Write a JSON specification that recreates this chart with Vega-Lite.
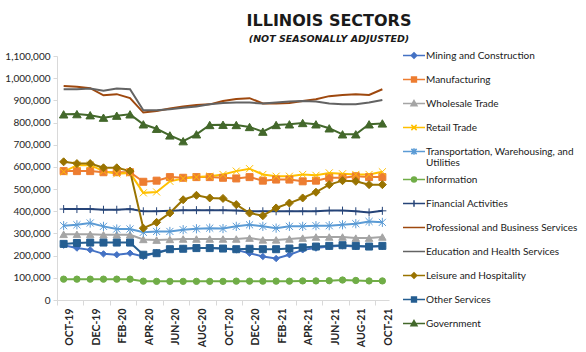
{
  "$schema": "https://vega.github.io/schema/vega-lite/v6.json",
  "width": 332,
  "height": 244,
  "autosize": {"type": "none"},
  "padding": {"left": 57, "top": 56, "right": 197, "bottom": 52},
  "background": "white",
  "config": {"view": {"stroke": null}, "font": "Lato"},
  "title": {
    "text": "ILLINOIS SECTORS",
    "subtitle": "(NOT SEASONALLY ADJUSTED)",
    "font": "DejaVu Sans",
    "fontSize": 16,
    "fontWeight": "bold",
    "color": "#1a1a1a",
    "subtitleFont": "DejaVu Sans",
    "subtitleFontSize": 9.5,
    "subtitleFontStyle": "italic",
    "subtitleFontWeight": "bold",
    "subtitleColor": "#1a1a1a",
    "subtitlePadding": 5,
    "anchor": "middle",
    "dx": 106,
    "offset": 0.5
  },
  "data": {"values": [
    {"m":"OCT-19","s":"Mining and Construction","v":247000},{"m":"NOV-19","s":"Mining and Construction","v":234000},{"m":"DEC-19","s":"Mining and Construction","v":226000},{"m":"JAN-20","s":"Mining and Construction","v":208000},{"m":"FEB-20","s":"Mining and Construction","v":204000},{"m":"MAR-20","s":"Mining and Construction","v":211000},{"m":"APR-20","s":"Mining and Construction","v":196000},{"m":"MAY-20","s":"Mining and Construction","v":214000},{"m":"JUN-20","s":"Mining and Construction","v":229000},{"m":"JUL-20","s":"Mining and Construction","v":231000},{"m":"AUG-20","s":"Mining and Construction","v":234000},{"m":"SEP-20","s":"Mining and Construction","v":234000},{"m":"OCT-20","s":"Mining and Construction","v":232000},{"m":"NOV-20","s":"Mining and Construction","v":226000},{"m":"DEC-20","s":"Mining and Construction","v":211000},{"m":"JAN-21","s":"Mining and Construction","v":196000},{"m":"FEB-21","s":"Mining and Construction","v":187000},{"m":"MAR-21","s":"Mining and Construction","v":204000},{"m":"APR-21","s":"Mining and Construction","v":226000},{"m":"MAY-21","s":"Mining and Construction","v":234000},{"m":"JUN-21","s":"Mining and Construction","v":241000},{"m":"JUL-21","s":"Mining and Construction","v":244000},{"m":"AUG-21","s":"Mining and Construction","v":241000},{"m":"SEP-21","s":"Mining and Construction","v":241000},{"m":"OCT-21","s":"Mining and Construction","v":241000},
    {"m":"OCT-19","s":"Manufacturing","v":581000},{"m":"NOV-19","s":"Manufacturing","v":581000},{"m":"DEC-19","s":"Manufacturing","v":581000},{"m":"JAN-20","s":"Manufacturing","v":576000},{"m":"FEB-20","s":"Manufacturing","v":576000},{"m":"MAR-20","s":"Manufacturing","v":576000},{"m":"APR-20","s":"Manufacturing","v":533000},{"m":"MAY-20","s":"Manufacturing","v":538000},{"m":"JUN-20","s":"Manufacturing","v":554000},{"m":"JUL-20","s":"Manufacturing","v":551000},{"m":"AUG-20","s":"Manufacturing","v":554000},{"m":"SEP-20","s":"Manufacturing","v":554000},{"m":"OCT-20","s":"Manufacturing","v":551000},{"m":"NOV-20","s":"Manufacturing","v":548000},{"m":"DEC-20","s":"Manufacturing","v":554000},{"m":"JAN-21","s":"Manufacturing","v":538000},{"m":"FEB-21","s":"Manufacturing","v":543000},{"m":"MAR-21","s":"Manufacturing","v":543000},{"m":"APR-21","s":"Manufacturing","v":535000},{"m":"MAY-21","s":"Manufacturing","v":538000},{"m":"JUN-21","s":"Manufacturing","v":551000},{"m":"JUL-21","s":"Manufacturing","v":551000},{"m":"AUG-21","s":"Manufacturing","v":558000},{"m":"SEP-21","s":"Manufacturing","v":554000},{"m":"OCT-21","s":"Manufacturing","v":554000},
    {"m":"OCT-19","s":"Wholesale Trade","v":296000},{"m":"NOV-19","s":"Wholesale Trade","v":296000},{"m":"DEC-19","s":"Wholesale Trade","v":296000},{"m":"JAN-20","s":"Wholesale Trade","v":294000},{"m":"FEB-20","s":"Wholesale Trade","v":294000},{"m":"MAR-20","s":"Wholesale Trade","v":294000},{"m":"APR-20","s":"Wholesale Trade","v":273000},{"m":"MAY-20","s":"Wholesale Trade","v":270000},{"m":"JUN-20","s":"Wholesale Trade","v":273000},{"m":"JUL-20","s":"Wholesale Trade","v":275000},{"m":"AUG-20","s":"Wholesale Trade","v":275000},{"m":"SEP-20","s":"Wholesale Trade","v":275000},{"m":"OCT-20","s":"Wholesale Trade","v":275000},{"m":"NOV-20","s":"Wholesale Trade","v":275000},{"m":"DEC-20","s":"Wholesale Trade","v":279000},{"m":"JAN-21","s":"Wholesale Trade","v":271000},{"m":"FEB-21","s":"Wholesale Trade","v":271000},{"m":"MAR-21","s":"Wholesale Trade","v":275000},{"m":"APR-21","s":"Wholesale Trade","v":279000},{"m":"MAY-21","s":"Wholesale Trade","v":284000},{"m":"JUN-21","s":"Wholesale Trade","v":284000},{"m":"JUL-21","s":"Wholesale Trade","v":284000},{"m":"AUG-21","s":"Wholesale Trade","v":279000},{"m":"SEP-21","s":"Wholesale Trade","v":279000},{"m":"OCT-21","s":"Wholesale Trade","v":284000},
    {"m":"OCT-19","s":"Retail Trade","v":578000},{"m":"NOV-19","s":"Retail Trade","v":608000},{"m":"DEC-19","s":"Retail Trade","v":608000},{"m":"JAN-20","s":"Retail Trade","v":581000},{"m":"FEB-20","s":"Retail Trade","v":569000},{"m":"MAR-20","s":"Retail Trade","v":573000},{"m":"APR-20","s":"Retail Trade","v":483000},{"m":"MAY-20","s":"Retail Trade","v":487000},{"m":"JUN-20","s":"Retail Trade","v":535000},{"m":"JUL-20","s":"Retail Trade","v":548000},{"m":"AUG-20","s":"Retail Trade","v":554000},{"m":"SEP-20","s":"Retail Trade","v":558000},{"m":"OCT-20","s":"Retail Trade","v":566000},{"m":"NOV-20","s":"Retail Trade","v":581000},{"m":"DEC-20","s":"Retail Trade","v":592000},{"m":"JAN-21","s":"Retail Trade","v":566000},{"m":"FEB-21","s":"Retail Trade","v":558000},{"m":"MAR-21","s":"Retail Trade","v":558000},{"m":"APR-21","s":"Retail Trade","v":566000},{"m":"MAY-21","s":"Retail Trade","v":562000},{"m":"JUN-21","s":"Retail Trade","v":573000},{"m":"JUL-21","s":"Retail Trade","v":569000},{"m":"AUG-21","s":"Retail Trade","v":566000},{"m":"SEP-21","s":"Retail Trade","v":566000},{"m":"OCT-21","s":"Retail Trade","v":578000},
    {"m":"OCT-19","s":"Transportation, Warehousing, and Utilities","v":335000},{"m":"NOV-19","s":"Transportation, Warehousing, and Utilities","v":339000},{"m":"DEC-19","s":"Transportation, Warehousing, and Utilities","v":347000},{"m":"JAN-20","s":"Transportation, Warehousing, and Utilities","v":332000},{"m":"FEB-20","s":"Transportation, Warehousing, and Utilities","v":320000},{"m":"MAR-20","s":"Transportation, Warehousing, and Utilities","v":320000},{"m":"APR-20","s":"Transportation, Warehousing, and Utilities","v":305000},{"m":"MAY-20","s":"Transportation, Warehousing, and Utilities","v":309000},{"m":"JUN-20","s":"Transportation, Warehousing, and Utilities","v":309000},{"m":"JUL-20","s":"Transportation, Warehousing, and Utilities","v":317000},{"m":"AUG-20","s":"Transportation, Warehousing, and Utilities","v":321000},{"m":"SEP-20","s":"Transportation, Warehousing, and Utilities","v":324000},{"m":"OCT-20","s":"Transportation, Warehousing, and Utilities","v":322000},{"m":"NOV-20","s":"Transportation, Warehousing, and Utilities","v":332000},{"m":"DEC-20","s":"Transportation, Warehousing, and Utilities","v":339000},{"m":"JAN-21","s":"Transportation, Warehousing, and Utilities","v":332000},{"m":"FEB-21","s":"Transportation, Warehousing, and Utilities","v":324000},{"m":"MAR-21","s":"Transportation, Warehousing, and Utilities","v":332000},{"m":"APR-21","s":"Transportation, Warehousing, and Utilities","v":332000},{"m":"MAY-21","s":"Transportation, Warehousing, and Utilities","v":335000},{"m":"JUN-21","s":"Transportation, Warehousing, and Utilities","v":335000},{"m":"JUL-21","s":"Transportation, Warehousing, and Utilities","v":339000},{"m":"AUG-21","s":"Transportation, Warehousing, and Utilities","v":344000},{"m":"SEP-21","s":"Transportation, Warehousing, and Utilities","v":354000},{"m":"OCT-21","s":"Transportation, Warehousing, and Utilities","v":350000},
    {"m":"OCT-19","s":"Information","v":94000},{"m":"NOV-19","s":"Information","v":94000},{"m":"DEC-19","s":"Information","v":94000},{"m":"JAN-20","s":"Information","v":94000},{"m":"FEB-20","s":"Information","v":94000},{"m":"MAR-20","s":"Information","v":94000},{"m":"APR-20","s":"Information","v":85000},{"m":"MAY-20","s":"Information","v":84000},{"m":"JUN-20","s":"Information","v":84000},{"m":"JUL-20","s":"Information","v":84000},{"m":"AUG-20","s":"Information","v":84000},{"m":"SEP-20","s":"Information","v":84000},{"m":"OCT-20","s":"Information","v":84000},{"m":"NOV-20","s":"Information","v":85000},{"m":"DEC-20","s":"Information","v":85000},{"m":"JAN-21","s":"Information","v":85000},{"m":"FEB-21","s":"Information","v":85000},{"m":"MAR-21","s":"Information","v":85000},{"m":"APR-21","s":"Information","v":86000},{"m":"MAY-21","s":"Information","v":86000},{"m":"JUN-21","s":"Information","v":87000},{"m":"JUL-21","s":"Information","v":90000},{"m":"AUG-21","s":"Information","v":88000},{"m":"SEP-21","s":"Information","v":86000},{"m":"OCT-21","s":"Information","v":86000},
    {"m":"OCT-19","s":"Financial Activities","v":410000},{"m":"NOV-19","s":"Financial Activities","v":410000},{"m":"DEC-19","s":"Financial Activities","v":410000},{"m":"JAN-20","s":"Financial Activities","v":407000},{"m":"FEB-20","s":"Financial Activities","v":407000},{"m":"MAR-20","s":"Financial Activities","v":410000},{"m":"APR-20","s":"Financial Activities","v":400000},{"m":"MAY-20","s":"Financial Activities","v":400000},{"m":"JUN-20","s":"Financial Activities","v":402000},{"m":"JUL-20","s":"Financial Activities","v":405000},{"m":"AUG-20","s":"Financial Activities","v":405000},{"m":"SEP-20","s":"Financial Activities","v":405000},{"m":"OCT-20","s":"Financial Activities","v":405000},{"m":"NOV-20","s":"Financial Activities","v":403000},{"m":"DEC-20","s":"Financial Activities","v":400000},{"m":"JAN-21","s":"Financial Activities","v":400000},{"m":"FEB-21","s":"Financial Activities","v":400000},{"m":"MAR-21","s":"Financial Activities","v":400000},{"m":"APR-21","s":"Financial Activities","v":400000},{"m":"MAY-21","s":"Financial Activities","v":400000},{"m":"JUN-21","s":"Financial Activities","v":403000},{"m":"JUL-21","s":"Financial Activities","v":403000},{"m":"AUG-21","s":"Financial Activities","v":400000},{"m":"SEP-21","s":"Financial Activities","v":395000},{"m":"OCT-21","s":"Financial Activities","v":402000},
    {"m":"OCT-19","s":"Professional and Business Services","v":965000},{"m":"NOV-19","s":"Professional and Business Services","v":961000},{"m":"DEC-19","s":"Professional and Business Services","v":955000},{"m":"JAN-20","s":"Professional and Business Services","v":923000},{"m":"FEB-20","s":"Professional and Business Services","v":928000},{"m":"MAR-20","s":"Professional and Business Services","v":910000},{"m":"APR-20","s":"Professional and Business Services","v":845000},{"m":"MAY-20","s":"Professional and Business Services","v":852000},{"m":"JUN-20","s":"Professional and Business Services","v":863000},{"m":"JUL-20","s":"Professional and Business Services","v":872000},{"m":"AUG-20","s":"Professional and Business Services","v":879000},{"m":"SEP-20","s":"Professional and Business Services","v":882000},{"m":"OCT-20","s":"Professional and Business Services","v":897000},{"m":"NOV-20","s":"Professional and Business Services","v":906000},{"m":"DEC-20","s":"Professional and Business Services","v":910000},{"m":"JAN-21","s":"Professional and Business Services","v":886000},{"m":"FEB-21","s":"Professional and Business Services","v":886000},{"m":"MAR-21","s":"Professional and Business Services","v":888000},{"m":"APR-21","s":"Professional and Business Services","v":897000},{"m":"MAY-21","s":"Professional and Business Services","v":905000},{"m":"JUN-21","s":"Professional and Business Services","v":919000},{"m":"JUL-21","s":"Professional and Business Services","v":924000},{"m":"AUG-21","s":"Professional and Business Services","v":928000},{"m":"SEP-21","s":"Professional and Business Services","v":924000},{"m":"OCT-21","s":"Professional and Business Services","v":950000},
    {"m":"OCT-19","s":"Education and Health Services","v":950000},{"m":"NOV-19","s":"Education and Health Services","v":950000},{"m":"DEC-19","s":"Education and Health Services","v":953000},{"m":"JAN-20","s":"Education and Health Services","v":943000},{"m":"FEB-20","s":"Education and Health Services","v":953000},{"m":"MAR-20","s":"Education and Health Services","v":950000},{"m":"APR-20","s":"Education and Health Services","v":855000},{"m":"MAY-20","s":"Education and Health Services","v":855000},{"m":"JUN-20","s":"Education and Health Services","v":860000},{"m":"JUL-20","s":"Education and Health Services","v":867000},{"m":"AUG-20","s":"Education and Health Services","v":872000},{"m":"SEP-20","s":"Education and Health Services","v":882000},{"m":"OCT-20","s":"Education and Health Services","v":888000},{"m":"NOV-20","s":"Education and Health Services","v":890000},{"m":"DEC-20","s":"Education and Health Services","v":890000},{"m":"JAN-21","s":"Education and Health Services","v":886000},{"m":"FEB-21","s":"Education and Health Services","v":890000},{"m":"MAR-21","s":"Education and Health Services","v":895000},{"m":"APR-21","s":"Education and Health Services","v":897000},{"m":"MAY-21","s":"Education and Health Services","v":895000},{"m":"JUN-21","s":"Education and Health Services","v":886000},{"m":"JUL-21","s":"Education and Health Services","v":882000},{"m":"AUG-21","s":"Education and Health Services","v":882000},{"m":"SEP-21","s":"Education and Health Services","v":890000},{"m":"OCT-21","s":"Education and Health Services","v":902000},
    {"m":"OCT-19","s":"Leisure and Hospitality","v":623000},{"m":"NOV-19","s":"Leisure and Hospitality","v":615000},{"m":"DEC-19","s":"Leisure and Hospitality","v":615000},{"m":"JAN-20","s":"Leisure and Hospitality","v":596000},{"m":"FEB-20","s":"Leisure and Hospitality","v":596000},{"m":"MAR-20","s":"Leisure and Hospitality","v":581000},{"m":"APR-20","s":"Leisure and Hospitality","v":324000},{"m":"MAY-20","s":"Leisure and Hospitality","v":350000},{"m":"JUN-20","s":"Leisure and Hospitality","v":392000},{"m":"JUL-20","s":"Leisure and Hospitality","v":452000},{"m":"AUG-20","s":"Leisure and Hospitality","v":472000},{"m":"SEP-20","s":"Leisure and Hospitality","v":460000},{"m":"OCT-20","s":"Leisure and Hospitality","v":458000},{"m":"NOV-20","s":"Leisure and Hospitality","v":430000},{"m":"DEC-20","s":"Leisure and Hospitality","v":392000},{"m":"JAN-21","s":"Leisure and Hospitality","v":380000},{"m":"FEB-21","s":"Leisure and Hospitality","v":415000},{"m":"MAR-21","s":"Leisure and Hospitality","v":437000},{"m":"APR-21","s":"Leisure and Hospitality","v":460000},{"m":"MAY-21","s":"Leisure and Hospitality","v":486000},{"m":"JUN-21","s":"Leisure and Hospitality","v":520000},{"m":"JUL-21","s":"Leisure and Hospitality","v":538000},{"m":"AUG-21","s":"Leisure and Hospitality","v":535000},{"m":"SEP-21","s":"Leisure and Hospitality","v":520000},{"m":"OCT-21","s":"Leisure and Hospitality","v":520000},
    {"m":"OCT-19","s":"Other Services","v":253000},{"m":"NOV-19","s":"Other Services","v":257000},{"m":"DEC-19","s":"Other Services","v":259000},{"m":"JAN-20","s":"Other Services","v":259000},{"m":"FEB-20","s":"Other Services","v":259000},{"m":"MAR-20","s":"Other Services","v":259000},{"m":"APR-20","s":"Other Services","v":204000},{"m":"MAY-20","s":"Other Services","v":211000},{"m":"JUN-20","s":"Other Services","v":229000},{"m":"JUL-20","s":"Other Services","v":231000},{"m":"AUG-20","s":"Other Services","v":234000},{"m":"SEP-20","s":"Other Services","v":234000},{"m":"OCT-20","s":"Other Services","v":232000},{"m":"NOV-20","s":"Other Services","v":229000},{"m":"DEC-20","s":"Other Services","v":231000},{"m":"JAN-21","s":"Other Services","v":229000},{"m":"FEB-21","s":"Other Services","v":229000},{"m":"MAR-21","s":"Other Services","v":232000},{"m":"APR-21","s":"Other Services","v":237000},{"m":"MAY-21","s":"Other Services","v":241000},{"m":"JUN-21","s":"Other Services","v":244000},{"m":"JUL-21","s":"Other Services","v":247000},{"m":"AUG-21","s":"Other Services","v":244000},{"m":"SEP-21","s":"Other Services","v":241000},{"m":"OCT-21","s":"Other Services","v":244000},
    {"m":"OCT-19","s":"Government","v":837000},{"m":"NOV-19","s":"Government","v":838000},{"m":"DEC-19","s":"Government","v":833000},{"m":"JAN-20","s":"Government","v":822000},{"m":"FEB-20","s":"Government","v":831000},{"m":"MAR-20","s":"Government","v":837000},{"m":"APR-20","s":"Government","v":792000},{"m":"MAY-20","s":"Government","v":772000},{"m":"JUN-20","s":"Government","v":742000},{"m":"JUL-20","s":"Government","v":716000},{"m":"AUG-20","s":"Government","v":747000},{"m":"SEP-20","s":"Government","v":789000},{"m":"OCT-20","s":"Government","v":790000},{"m":"NOV-20","s":"Government","v":789000},{"m":"DEC-20","s":"Government","v":780000},{"m":"JAN-21","s":"Government","v":759000},{"m":"FEB-21","s":"Government","v":789000},{"m":"MAR-21","s":"Government","v":792000},{"m":"APR-21","s":"Government","v":798000},{"m":"MAY-21","s":"Government","v":792000},{"m":"JUN-21","s":"Government","v":774000},{"m":"JUL-21","s":"Government","v":747000},{"m":"AUG-21","s":"Government","v":747000},{"m":"SEP-21","s":"Government","v":792000},{"m":"OCT-21","s":"Government","v":796000}
  ]},
  "encoding": {
    "x": {
      "field": "m", "type": "ordinal",
      "sort": ["OCT-19","NOV-19","DEC-19","JAN-20","FEB-20","MAR-20","APR-20","MAY-20","JUN-20","JUL-20","AUG-20","SEP-20","OCT-20","NOV-20","DEC-20","JAN-21","FEB-21","MAR-21","APR-21","MAY-21","JUN-21","JUL-21","AUG-21","SEP-21","OCT-21"],
      "scale": {"type": "band", "paddingInner": 0, "paddingOuter": 0},
      "axis": {
        "title": null,
        "values": ["OCT-19","DEC-19","FEB-20","APR-20","JUN-20","AUG-20","OCT-20","DEC-20","FEB-21","APR-21","JUN-21","AUG-21","OCT-21"],
        "labelAngle": -90, "labelFont": "Lato", "labelFontSize": 10.5, "labelFontWeight": "bold", "labelColor": "#262626",
        "labelPadding": 3, "bandPosition": 0, "labelOffset": 6.6,
        "domainColor": "#d9d9d9", "tickColor": "#d9d9d9", "tickSize": 5, "grid": false
      }
    },
    "y": {
      "field": "v", "type": "quantitative",
      "scale": {"domain": [0, 1100000], "nice": false},
      "axis": {
        "title": null, "format": ",d",
        "values": [0,100000,200000,300000,400000,500000,600000,700000,800000,900000,1000000,1100000],
        "labelFont": "Lato", "labelFontSize": 10, "labelColor": "#262626", "labelPadding": 3,
        "domainColor": "#d9d9d9", "tickColor": "#d9d9d9", "tickSize": 4, "grid": false
      }
    }
  },
  "layer": [
    {
      "mark": {"type": "line", "strokeWidth": 2},
      "encoding": {
        "color": {
          "field": "s", "type": "nominal",
          "scale": {
            "domain": ["Mining and Construction","Manufacturing","Wholesale Trade","Retail Trade","Transportation, Warehousing, and Utilities","Information","Financial Activities","Professional and Business Services","Education and Health Services","Leisure and Hospitality","Other Services","Government"],
            "range": ["#4472C4","#ED7D31","#A5A5A5","#FFC000","#5B9BD5","#70AD47","#264478","#9E480E","#636363","#997300","#255E91","#43682B"]
          },
          "legend": {
            "title": null, "orient": "none", "legendX": 345, "legendY": -12.5, "padding": 0,
            "labelFont": "Lato", "labelFontSize": 10, "labelColor": "#1a1a1a", "labelLimit": 220, "labelOffset": 0,
            "symbolSize": 484, "symbolStrokeWidth": 1.5, "rowPadding": 0,
            "labelExpr": "datum.label == 'Transportation, Warehousing, and Utilities' ? ['Transportation, Warehousing, and', 'Utilities'] : datum.label",
            "encode": {
              "symbols": {"update": {
                "shape": {"signal": "'M0,-0.744M0,0.744M-1,0L1,0' + ((datum.value=='Mining and Construction'||datum.value=='Leisure and Hospitality') ? 'M0,-0.25L0.25,0L0,0.25L-0.25,0Z' : (datum.value=='Manufacturing'||datum.value=='Other Services') ? 'M-0.22,-0.22L0.22,-0.22L0.22,0.22L-0.22,0.22Z' : (datum.value=='Wholesale Trade'||datum.value=='Government') ? 'M0,-0.27L0.27,0.2L-0.27,0.2Z' : datum.value=='Retail Trade' ? 'M-0.24,-0.24L0.24,0.24M-0.24,0.24L0.24,-0.24' : datum.value=='Information' ? 'M0.22,0A0.22,0.22,0,1,1,-0.22,0A0.22,0.22,0,1,1,0.22,0Z' : datum.value=='Financial Activities' ? 'M0,-0.3L0,0.3' : datum.value=='Transportation, Warehousing, and Utilities' ? 'M-0.24,-0.24L0.24,0.24M-0.24,0.24L0.24,-0.24M0,-0.3L0,0.3' : '')"},
                "fill": {"signal": "scale('color', datum.value)"},
                "stroke": {"signal": "scale('color', datum.value)"},
                "size": {"value": 484},
                "strokeWidth": {"value": 1.5},
                "opacity": {"value": 1}
              }},
              "labels": {"update": {
                "lineHeight": {"value": 11}
              }}
            }
          }
        }
      }
    },
    {
      "mark": {"type": "point", "filled": true, "strokeWidth": 1, "opacity": 1},
      "encoding": {
        "color": {"field": "s", "type": "nominal"},
        "stroke": {
          "field": "s", "type": "nominal", "legend": null,
          "scale": {
            "domain": ["Government","Other Services","Leisure and Hospitality","Education and Health Services","Professional and Business Services","Financial Activities","Information","Transportation, Warehousing, and Utilities","Retail Trade","Wholesale Trade","Manufacturing","Mining and Construction"],
            "range": ["#43682B","#255E91","#997300","#636363","#9E480E","#264478","#70AD47","#5B9BD5","#FFC000","#A5A5A5","#ED7D31","#4472C4"]
          }
        },
        "shape": {
          "field": "s", "type": "nominal", "legend": null,
          "scale": {
            "domain": ["Government","Other Services","Leisure and Hospitality","Education and Health Services","Professional and Business Services","Financial Activities","Information","Transportation, Warehousing, and Utilities","Retail Trade","Wholesale Trade","Manufacturing","Mining and Construction"],
            "range": ["triangle-up","square","diamond","circle","circle","M-1,0L1,0M0,-1L0,1","circle","M-1,-1L1,1M-1,1L1,-1M0,-1.3L0,1.3","M-1,-1L1,1M-1,1L1,-1","triangle-up","square","diamond"]
          }
        },
        "size": {
          "field": "s", "type": "nominal", "legend": null,
          "scale": {
            "type": "ordinal",
            "domain": ["Government","Other Services","Leisure and Hospitality","Education and Health Services","Professional and Business Services","Financial Activities","Information","Transportation, Warehousing, and Utilities","Retail Trade","Wholesale Trade","Manufacturing","Mining and Construction"],
            "range": [72, 49, 64, 0, 0, 64, 40, 50, 50, 56, 49, 40]
          }
        }
      }
    }
  ]
}
